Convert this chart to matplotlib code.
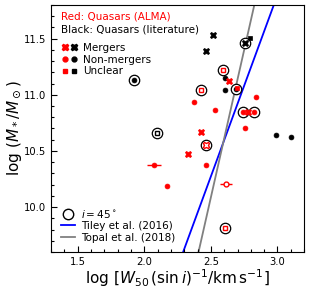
import numpy as np
import matplotlib
matplotlib.use('Agg')
import matplotlib.pyplot as plt
from matplotlib.lines import Line2D
from matplotlib.legend_handler import HandlerTuple

# ALMA quasars (red)
red_merg_x = [2.638, 2.425, 2.329, 2.781, 2.461]
red_merg_y = [11.123, 10.666, 10.471, 10.848, 10.551]
red_merg_open = [False, False, False, False, True]
red_merg_ring = [False, False, False, False, True]

red_non_x = [2.374, 2.532, 2.839, 2.756, 2.462, 2.173, 2.073, 2.738, 2.821, 2.612]
red_non_y = [10.935, 10.867, 10.979, 10.708, 10.379, 10.189, 10.379, 10.843, 10.848, 10.202]
red_non_xerr = [0, 0, 0, 0, 0, 0, 0.05, 0, 0, 0.045]
red_non_open = [False] * 9 + [True]
red_non_ring = [False] * 7 + [True, True, False]

red_unc_x = [2.593, 2.429, 2.606, 2.698]
red_unc_y = [11.225, 11.039, 9.811, 11.056]
red_unc_open = [True, True, True, False]
red_unc_ring = [True, True, True, False]

# literature quasars (black)
blk_merg_x = [2.512, 2.462, 2.753]
blk_merg_y = [11.53, 11.387, 11.458]
blk_merg_ring = [False, False, True]

blk_non_x = [1.922, 2.605, 2.605, 2.687, 2.992, 3.098]
blk_non_y = [11.136, 11.148, 11.047, 11.054, 10.639, 10.628]
blk_non_ring = [True, False, False, True, False, False]

blk_unc_x = [2.796, 2.098]
blk_unc_y = [11.51, 10.663]
blk_unc_open = [False, True]
blk_unc_ring = [False, True]

# Tully-Fisher relations: slope, value at log W = 2.5
tiley_slope, tiley_zp = 3.23, 10.274
topal_slope, topal_zp = 5.25, 10.088

XLIM = (1.3, 3.2)
YLIM = (9.6, 11.8)


def plot_group(ax, xs, ys, color, marker, ms, opens=None, rings=None, xerrs=None):
    n = len(xs)
    opens = opens or [False] * n
    rings = rings or [False] * n
    xerrs = xerrs or [0] * n
    for x, y, op, rg, xe in zip(xs, ys, opens, rings, xerrs):
        if xe > 0:
            ax.errorbar(x, y, xerr=xe, fmt='none', ecolor=color, elinewidth=1.0,
                        capsize=0, zorder=3)
        if rg:
            ax.plot(x, y, 'o', mfc='white', mec='k', mew=0.9, ms=7.5, zorder=3)
        ax.plot(x, y, marker, color=color, ms=ms, mfc='white' if op else color,
                mec=color, mew=1.0 if op else 0.5, ls='none', zorder=4)


plt.rcParams['mathtext.fontset'] = 'dejavusans'
fig = plt.figure(figsize=(3.1, 2.91), dpi=100)
ax = fig.add_axes([0.165, 0.134, 0.816, 0.849])

xx = np.linspace(XLIM[0], XLIM[1], 50)
ax.plot(xx, tiley_slope * (xx - 2.5) + tiley_zp, color='blue', lw=1.3, zorder=1)
ax.plot(xx, topal_slope * (xx - 2.5) + topal_zp, color='gray', lw=1.3, zorder=1)

plot_group(ax, blk_merg_x, blk_merg_y, 'k', 'X', 4.5, rings=blk_merg_ring)
plot_group(ax, blk_non_x, blk_non_y, 'k', 'o', 3.5, rings=blk_non_ring)
plot_group(ax, blk_unc_x, blk_unc_y, 'k', 's', 3.5, opens=blk_unc_open, rings=blk_unc_ring)
plot_group(ax, red_merg_x, red_merg_y, 'red', 'X', 4.5, opens=red_merg_open, rings=red_merg_ring)
plot_group(ax, red_non_x, red_non_y, 'red', 'o', 3.5, opens=red_non_open,
           rings=red_non_ring, xerrs=red_non_xerr)
plot_group(ax, red_unc_x, red_unc_y, 'red', 's', 3.5, opens=red_unc_open, rings=red_unc_ring)

ax.set_xlim(*XLIM)
ax.set_ylim(*YLIM)
ax.set_xticks([1.5, 2.0, 2.5, 3.0])
ax.set_yticks([10.0, 10.5, 11.0, 11.5])
ax.set_xticks(np.arange(1.3, 3.21, 0.1), minor=True)
ax.set_yticks(np.arange(9.6, 11.81, 0.1), minor=True)
ax.tick_params(which='both', direction='in', labelsize=7.2, width=0.8)
ax.tick_params(which='major', length=4)
ax.tick_params(which='minor', length=2)
ax.set_xlabel(r'$\log\,[W_{50}\,(\sin i)^{-1}/{\rm km\,s^{-1}}]$', fontsize=11, labelpad=0)
ax.set_ylabel(r'$\log\,(M_*/M_\odot)$', fontsize=11, labelpad=0)

ax.text(0.04, 0.955, 'Red: Quasars (ALMA)', color='red', fontsize=7.5,
        transform=ax.transAxes, va='center')
ax.text(0.04, 0.9, 'Black: Quasars (literature)', color='k', fontsize=7.5,
        transform=ax.transAxes, va='center')

def mk(marker, color, ms):
    return Line2D([], [], marker=marker, color=color, ms=ms, ls='none')

h_types = [(mk('X', 'red', 4.5), mk('X', 'k', 4.5)),
           (mk('o', 'red', 3.5), mk('o', 'k', 3.5)),
           (mk('s', 'red', 3.5), mk('s', 'k', 3.5))]
leg1 = ax.legend(h_types, ['Mergers', 'Non-mergers', 'Unclear'],
                 handler_map={tuple: HandlerTuple(ndivide=None, pad=0.2)},
                 loc='upper left', bbox_to_anchor=(0.01, 0.875), frameon=False,
                 fontsize=7.5, handlelength=1.6, handletextpad=0.5,
                 labelspacing=0.15, borderaxespad=0.3)
ax.add_artist(leg1)

h_lines = [Line2D([], [], marker='o', mfc='none', mec='k', ms=7.5, ls='none'),
           Line2D([], [], color='blue', lw=1.3),
           Line2D([], [], color='gray', lw=1.3)]
ax.legend(h_lines, [r'$i=45^\circ$', 'Tiley et al. (2016)', 'Topal et al. (2018)'],
          loc='lower left', frameon=False, fontsize=7.5, handlelength=1.4,
          handletextpad=0.6, labelspacing=0.15, borderaxespad=0.5)

fig.savefig('out.png', dpi=100)
